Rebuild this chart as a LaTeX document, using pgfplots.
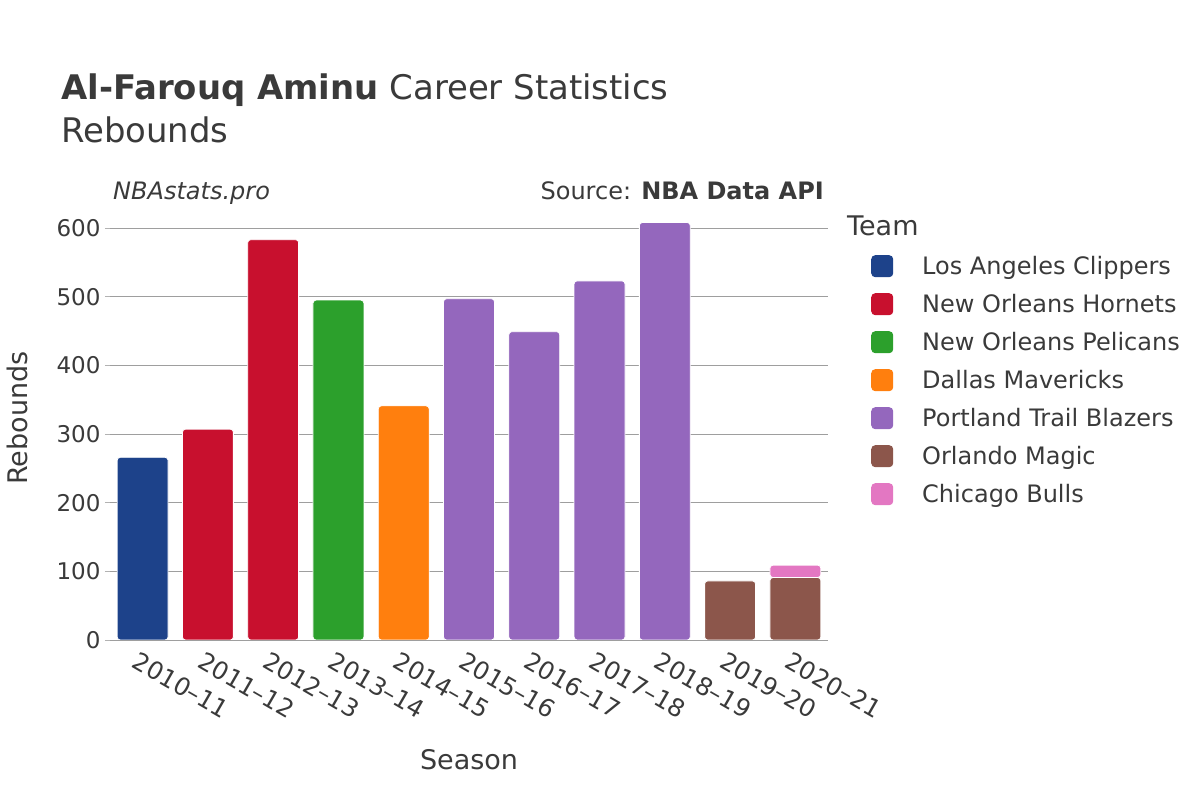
\documentclass[border=0pt]{standalone}
\usepackage{fontspec}
\setmainfont{DejaVu Sans}
\usepackage{pgfplots}
\usepackage{pgfplotstable}
\pgfplotsset{compat=1.18}

\definecolor{txt}{HTML}{3A3A3A}
\definecolor{lac}{HTML}{1D428A}
\definecolor{noh}{HTML}{C8102E}
\definecolor{nop}{HTML}{2CA02C}
\definecolor{dal}{HTML}{FF7F0E}
\definecolor{por}{HTML}{9467BD}
\definecolor{orl}{HTML}{8C564B}
\definecolor{chi}{HTML}{E377C2}

\newcommand\fs[1]{\fontsize{#1}{#1}\selectfont}

% rebounds per season, one column per team
\pgfplotstableread{
x  lac noh nop dal por orl chi
0  266 0   0   0   0   0   0
1  0   307 0   0   0   0   0
2  0   583 0   0   0   0   0
3  0   0   495 0   0   0   0
4  0   0   0   341 0   0   0
5  0   0   0   0   497 0   0
6  0   0   0   0   449 0   0
7  0   0   0   0   523 0   0
8  0   0   0   0   608 0   0
9  0   0   0   0   0   86  0
10 0   0   0   0   0   91  18
}\reb

\begin{document}
\begin{tikzpicture}
\useasboundingbox (0,0) rectangle (1200pt,800pt);
\begin{axis}[
    at={(110pt,160pt)}, anchor=south west,
    scale only axis, width=718pt, height=432.6pt,
    ybar stacked, bar width=0.78,
    xmin=-0.5, xmax=10.5, ymin=0, ymax=630,
    xtick={0,...,10},
    xticklabels={2010–11,2011–12,2012–13,2013–14,2014–15,2015–16,2016–17,2017–18,2018–19,2019–20,2020–21},
    ytick={100,200,...,600},
    extra y ticks={0},
    extra y tick style={grid style={black!10, line width=2pt}},
    ymajorgrids,
    major grid style={black!38, line width=0.9pt},
    axis line style={draw=none},
    x tick style={draw=none},
    y tick style={black!30, line width=0.9pt},
    ytick pos=left, tick align=outside, major tick length=5pt,
    /pgf/number format/assume math mode=true,
    ticklabel style={font=\fs{23}, color=txt},
    yticklabel style={xshift=-1pt},
    xticklabel style={rotate=-30, anchor=north west, xshift=-3pt, yshift=-3pt, font=\fs{24.5}},
    xlabel={Season}, ylabel={Rebounds},
    every axis x label/.style={at={(axis description cs:0.5,-0.277)}, anchor=center, font=\fs{27}, color=txt},
    every axis y label/.style={at={(axis description cs:-0.1295,0.513)}, rotate=90, anchor=center, font=\fs{27}, color=txt},
    legend style={at={(1.0599,0.890)}, anchor=north west, draw=none, fill=none,
        inner sep=0pt, column sep=29pt, row sep=12.5pt,
        nodes={inner sep=0pt, anchor=west, text height=18pt, text depth=6pt, font=\fs{24}, text=txt}},
    legend cell align=left,
    legend image code/.code={\fill[#1, draw=none, rounded corners=4pt] (0pt,-8.5pt) rectangle (22pt,13.5pt);},
    every axis plot/.append style={draw=white, line width=0.8pt, rounded corners=3pt},
]
\addplot[fill=lac] table[x=x, y=lac]{\reb};
\addlegendentry{Los Angeles Clippers}
\addplot[fill=noh] table[x=x, y=noh]{\reb};
\addlegendentry{New Orleans Hornets}
\addplot[fill=nop] table[x=x, y=nop]{\reb};
\addlegendentry{New Orleans Pelicans}
\addplot[fill=dal] table[x=x, y=dal]{\reb};
\addlegendentry{Dallas Mavericks}
\addplot[fill=por] table[x=x, y=por]{\reb};
\addlegendentry{Portland Trail Blazers}
\addplot[fill=orl] table[x=x, y=orl]{\reb};
\addlegendentry{Orlando Magic}
\addplot[fill=chi] table[x=x, y=chi]{\reb};
\addlegendentry{Chicago Bulls}
\end{axis}
\begin{scope}[every node/.style={inner sep=0pt, text=txt}]
\node[anchor=base west] at (61pt,700pt) {\fs{33.9}\textbf{Al-Farouq Aminu} Career Statistics};
\node[anchor=base west] at (61pt,657pt) {\fs{33.9}Rebounds};
\node[anchor=base west] at (113pt,600pt) {\fs{24}\itshape NBAstats.pro};
\node[anchor=base east] at (824pt,600pt) {\fs{24}Source: \textbf{NBA Data API}};
\node[anchor=base west] at (847pt,564pt) {\fs{27}Team};
\end{scope}
\end{tikzpicture}
\end{document}
